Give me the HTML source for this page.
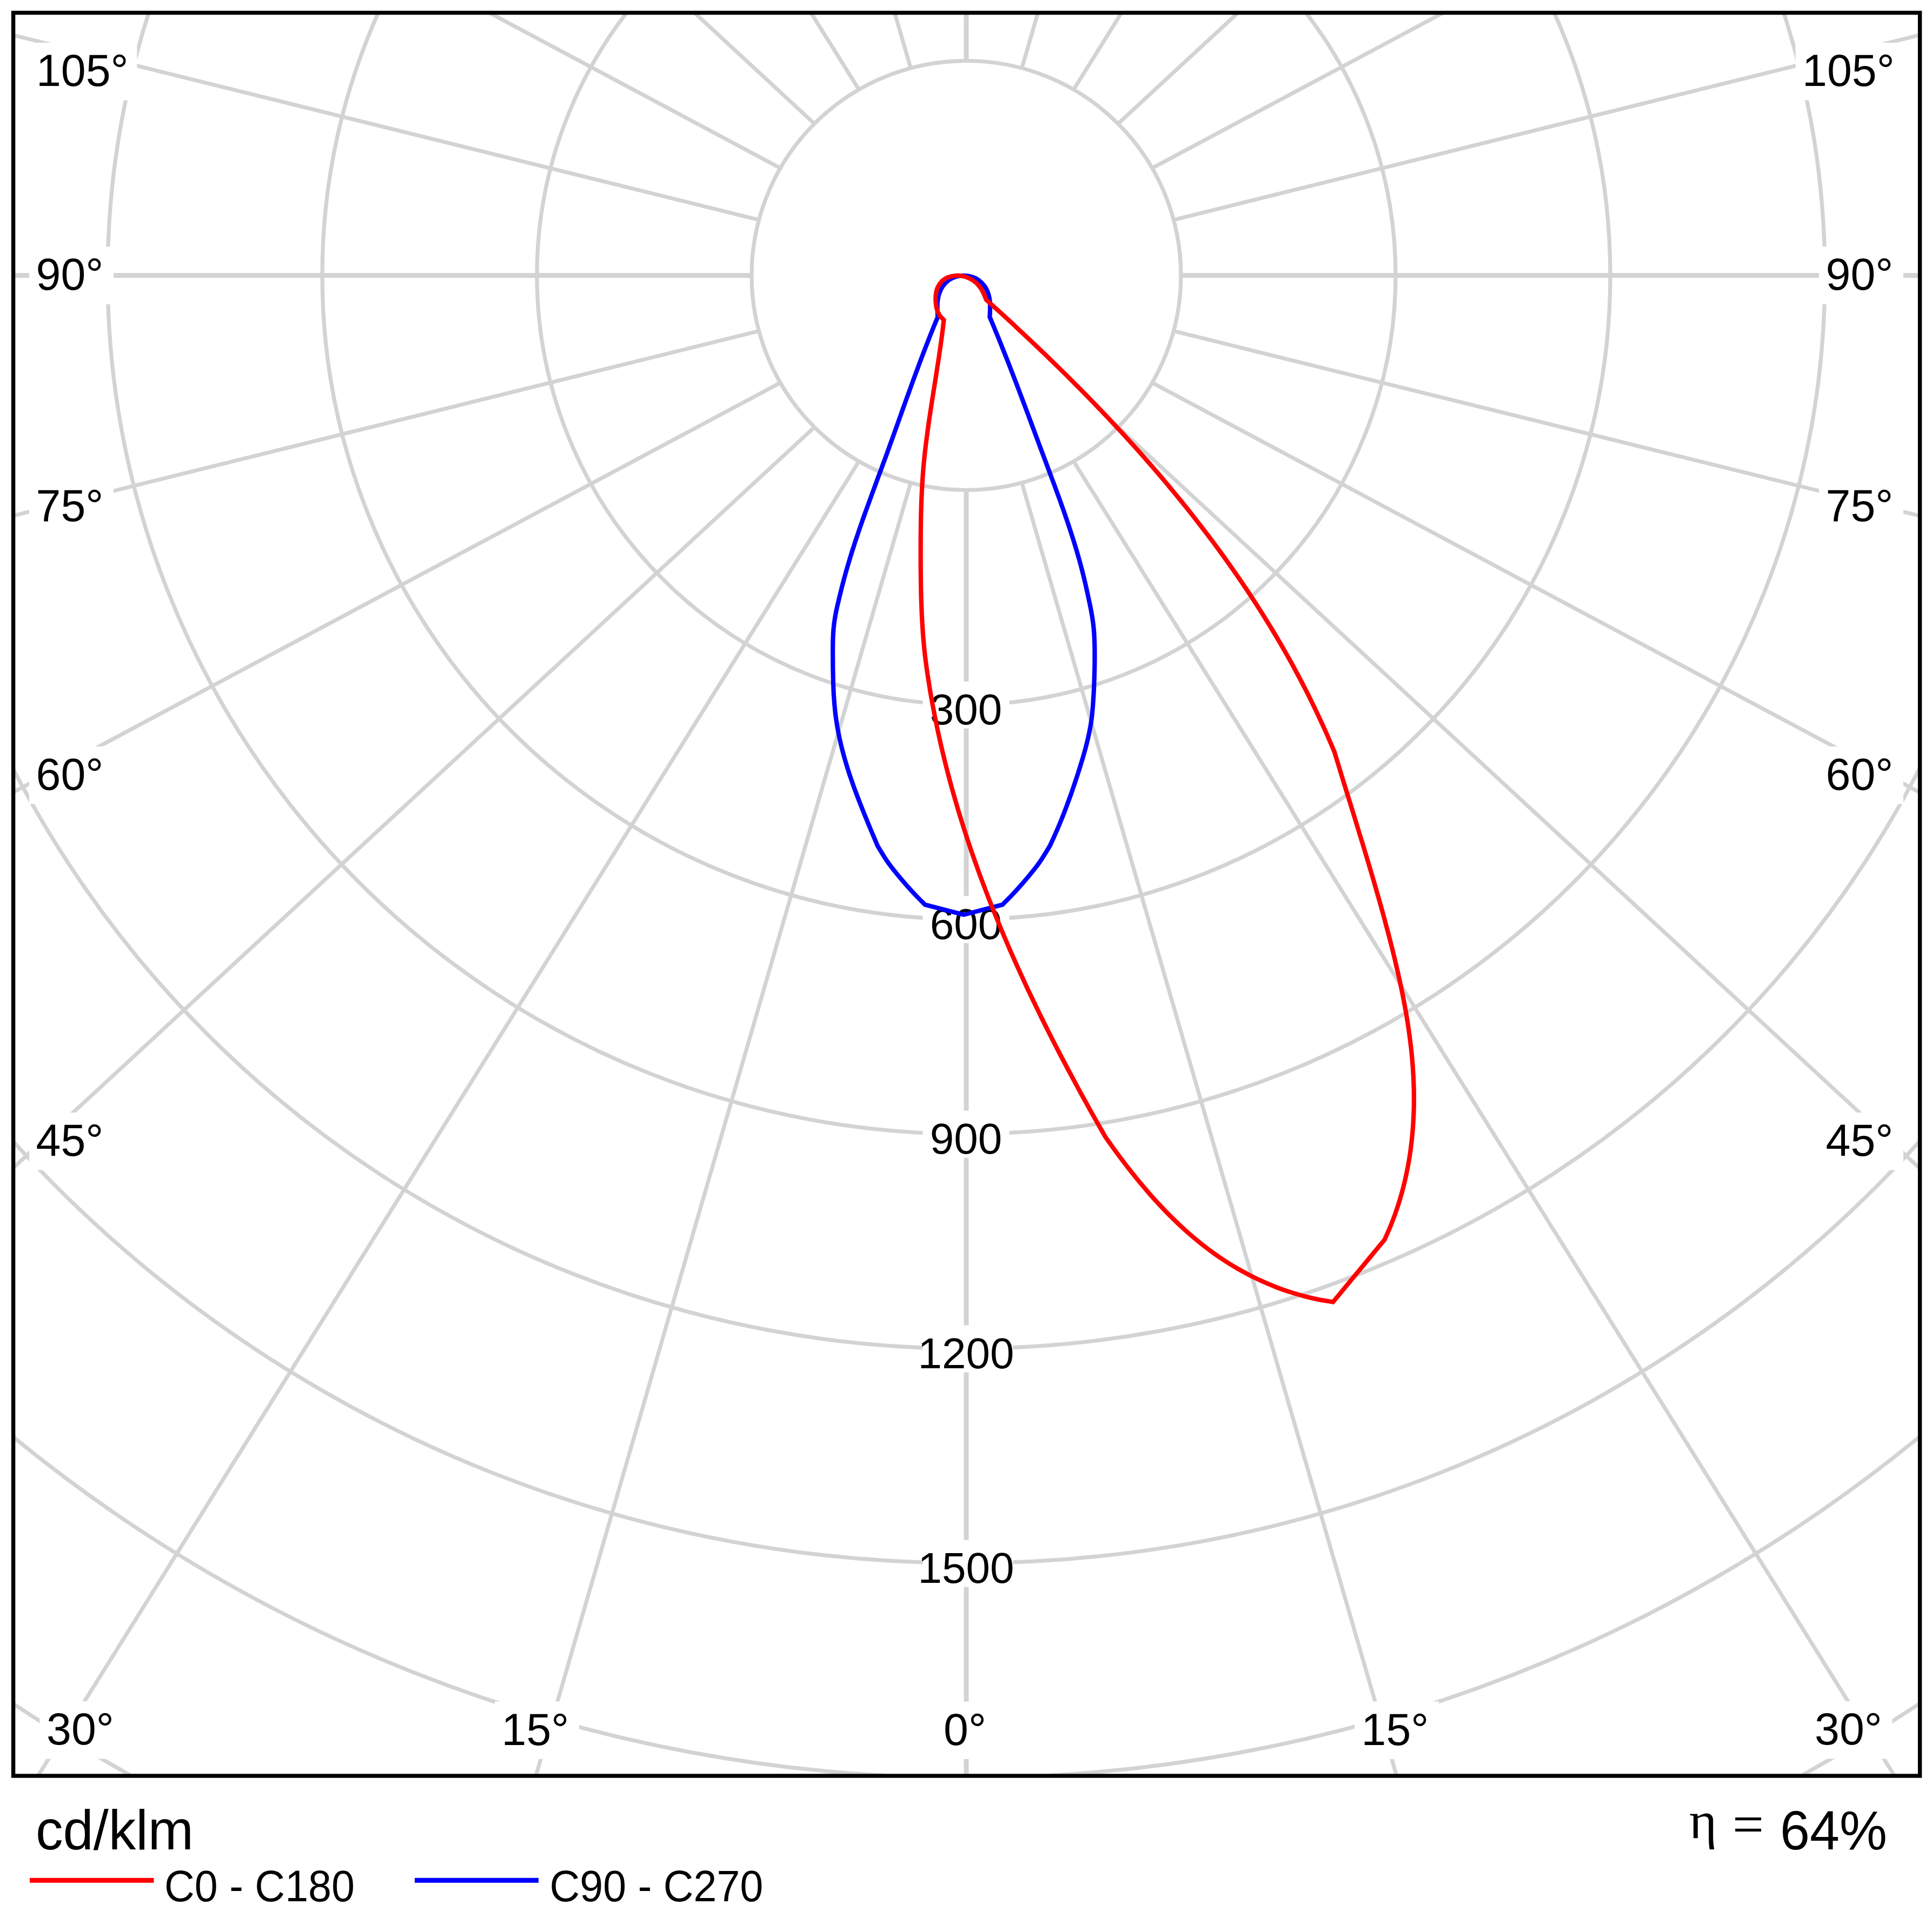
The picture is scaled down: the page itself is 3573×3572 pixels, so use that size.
<!DOCTYPE html>
<html><head><meta charset="utf-8"><title>Polar diagram</title>
<style>html,body{margin:0;padding:0;background:#fff}svg{display:block}</style></head>
<body>
<svg width="3573" height="3572" viewBox="0 0 3573 3572">
<defs><clipPath id="pc"><rect x="28" y="27" width="3519" height="3254"/></clipPath></defs>
<rect width="3573" height="3572" fill="#fff"/>
<g clip-path="url(#pc)">
<g fill="none" stroke="#d3d3d3" stroke-width="7.2">
<circle cx="1787.0" cy="509.5" r="397.0"/>
<circle cx="1787.0" cy="509.5" r="794.0"/>
<circle cx="1787.0" cy="509.5" r="1191.0"/>
<circle cx="1787.0" cy="509.5" r="1588.0"/>
<circle cx="1787.0" cy="509.5" r="1985.0"/>
<circle cx="1787.0" cy="509.5" r="2382.0"/>
<circle cx="1787.0" cy="509.5" r="2779.0"/>
<circle cx="1787.0" cy="509.5" r="3176.0"/>
<line x1="1889.8" y1="893.0" x2="3183.8" y2="5358.9"/>
<line x1="1985.5" y1="853.3" x2="4485.5" y2="4857.4"/>
<line x1="2067.7" y1="790.2" x2="5603.3" y2="4059.5"/>
<line x1="2130.8" y1="708.0" x2="6460.9" y2="3019.8"/>
<line x1="2170.5" y1="612.3" x2="7000.1" y2="1808.9"/>
<line x1="2170.5" y1="406.7" x2="7000.1" y2="-789.9"/>
<line x1="2130.8" y1="311.0" x2="6460.9" y2="-2000.7"/>
<line x1="2067.7" y1="228.8" x2="5603.3" y2="-3040.5"/>
<line x1="1985.5" y1="165.7" x2="4485.5" y2="-3838.4"/>
<line x1="1889.8" y1="126.0" x2="3183.8" y2="-4339.9"/>
<line x1="1684.2" y1="126.0" x2="390.2" y2="-4339.9"/>
<line x1="1588.5" y1="165.7" x2="-911.5" y2="-3838.4"/>
<line x1="1506.3" y1="228.8" x2="-2029.3" y2="-3040.5"/>
<line x1="1443.2" y1="311.0" x2="-2886.9" y2="-2000.8"/>
<line x1="1403.5" y1="406.7" x2="-3426.1" y2="-789.9"/>
<line x1="1403.5" y1="612.3" x2="-3426.1" y2="1808.9"/>
<line x1="1443.2" y1="708.0" x2="-2886.9" y2="3019.8"/>
<line x1="1506.3" y1="790.2" x2="-2029.3" y2="4059.5"/>
<line x1="1588.5" y1="853.3" x2="-911.5" y2="4857.4"/>
<line x1="1684.2" y1="893.0" x2="390.2" y2="5358.9"/>
</g>
<g fill="none" stroke="#d3d3d3" stroke-width="9">
<line x1="1787.0" y1="906.5" x2="1787.0" y2="5530.0"/>
<line x1="2184.0" y1="509.5" x2="7184.0" y2="509.5"/>
<line x1="1787.0" y1="112.5" x2="1787.0" y2="-4511.0"/>
<line x1="1390.0" y1="509.5" x2="-3610.0" y2="509.5"/>
</g>
<g fill="#fff">
<rect x="54.0" y="456.3" width="156.0" height="106.5"/>
<rect x="3364.0" y="456.3" width="156.0" height="106.5"/>
<rect x="54.0" y="883.8" width="156.0" height="106.5"/>
<rect x="3364.0" y="883.8" width="156.0" height="106.5"/>
<rect x="54.0" y="1380.8" width="156.0" height="106.5"/>
<rect x="3364.0" y="1380.8" width="156.0" height="106.5"/>
<rect x="54.0" y="2058.0" width="156.0" height="106.5"/>
<rect x="3364.0" y="2058.0" width="156.0" height="106.5"/>
<rect x="54.4" y="79.0" width="199.0" height="106.5"/>
<rect x="3320.6" y="79.0" width="199.0" height="106.5"/>
<rect x="73.5" y="3147.0" width="156.0" height="106.5"/>
<rect x="3343.5" y="3147.0" width="156.0" height="106.5"/>
<rect x="915.0" y="3147.5" width="156.0" height="106.5"/>
<rect x="2505.0" y="3147.5" width="156.0" height="106.5"/>
<rect x="1732.5" y="3147.5" width="112.0" height="106.5"/>
<rect x="1706.5" y="1260.5" width="160" height="87"/>
<rect x="1706.5" y="1657.5" width="160" height="87"/>
<rect x="1706.5" y="2054.5" width="160" height="87"/>
<rect x="1706.5" y="2451.5" width="167" height="87"/>
<rect x="1706.5" y="2848.5" width="167" height="87"/>
</g>
<g font-family="'Liberation Sans', sans-serif" fill="#000">
<text x="66.5" y="536.3" font-size="82.5">90°</text>
<text x="3376.5" y="536.3" font-size="82.5">90°</text>
<text x="66.5" y="963.8" font-size="82.5">75°</text>
<text x="3376.5" y="963.8" font-size="82.5">75°</text>
<text x="66.5" y="1460.8" font-size="82.5">60°</text>
<text x="3376.5" y="1460.8" font-size="82.5">60°</text>
<text x="66.5" y="2138.0" font-size="82.5">45°</text>
<text x="3376.5" y="2138.0" font-size="82.5">45°</text>
<text x="66.9" y="159.0" font-size="82.5">105°</text>
<text x="3333.1" y="159.0" font-size="82.5">105°</text>
<text x="86.0" y="3227.0" font-size="82.5">30°</text>
<text x="3356.0" y="3227.0" font-size="82.5">30°</text>
<text x="927.5" y="3227.5" font-size="82.5">15°</text>
<text x="2517.5" y="3227.5" font-size="82.5">15°</text>
<text x="1745.0" y="3227.5" font-size="82.5">0°</text>
<text x="1786.5" y="1340.0" font-size="80" text-anchor="middle">300</text>
<text x="1786.5" y="1737.0" font-size="80" text-anchor="middle">600</text>
<text x="1786.5" y="2134.0" font-size="80" text-anchor="middle">900</text>
<text x="1786.5" y="2531.0" font-size="80" text-anchor="middle">1200</text>
<text x="1786.5" y="2928.0" font-size="80" text-anchor="middle">1500</text>
</g>
<g fill="none" stroke-width="8.2" stroke-linejoin="miter" stroke-miterlimit="6">
<path d="M1734.2 586.5 C1734.1 584.2 1733.7 577.8 1733.6 572.9 C1733.6 568.0 1733.3 562.4 1733.9 557.4 C1734.5 552.4 1735.3 547.6 1737.0 542.9 C1738.7 538.1 1741.0 533.0 1744.0 528.9 C1746.9 524.8 1750.9 520.9 1754.8 518.0 C1758.8 515.1 1763.2 513.2 1767.8 511.8 C1772.4 510.4 1777.5 509.8 1782.3 509.8 C1787.1 509.8 1792.2 510.4 1796.8 511.8 C1801.4 513.2 1805.8 515.1 1809.8 518.0 C1813.7 520.9 1817.7 524.8 1820.6 528.9 C1823.6 533.0 1825.9 538.1 1827.6 542.9 C1829.3 547.6 1830.1 552.4 1830.7 557.4 C1831.3 562.4 1831.0 568.0 1831.0 572.9 C1830.9 577.8 1830.5 584.2 1830.4 586.5 C1831.4 588.8 1834.3 595.6 1836.2 600.2 C1838.1 604.7 1840.0 609.3 1841.8 613.9 C1843.7 618.5 1845.6 623.0 1847.5 627.6 C1849.3 632.2 1851.2 636.8 1853.0 641.4 C1854.9 646.0 1856.7 650.6 1858.5 655.2 C1860.3 659.8 1862.1 664.4 1864.0 669.0 C1865.8 673.6 1867.6 678.2 1869.3 682.8 C1871.1 687.4 1872.9 692.1 1874.7 696.7 C1876.5 701.3 1878.2 705.9 1880.0 710.5 C1881.8 715.2 1883.5 719.8 1885.3 724.4 C1887.0 729.0 1888.8 733.7 1890.5 738.3 C1892.3 742.9 1894.0 747.6 1895.8 752.2 C1897.5 756.8 1899.2 761.5 1901.0 766.1 C1902.7 770.8 1904.4 775.4 1906.2 780.0 C1907.9 784.7 1909.6 789.3 1911.4 794.0 C1913.1 798.6 1914.8 803.2 1916.5 807.9 C1918.3 812.5 1920.0 817.1 1921.7 821.8 C1923.4 826.4 1925.2 831.1 1926.9 835.7 C1928.6 840.3 1930.4 845.0 1932.1 849.6 C1933.8 854.2 1935.6 858.9 1937.3 863.5 C1939.0 868.1 1940.8 872.8 1942.5 877.4 C1944.2 882.0 1945.9 886.7 1947.7 891.3 C1949.4 896.0 1951.1 900.6 1952.8 905.2 C1954.5 909.9 1956.2 914.5 1957.9 919.2 C1959.6 923.8 1961.3 928.5 1962.9 933.1 C1964.6 937.8 1966.2 942.4 1967.9 947.1 C1969.5 951.8 1971.1 956.4 1972.7 961.1 C1974.3 965.8 1975.9 970.5 1977.4 975.2 C1979.0 979.9 1980.5 984.6 1982.0 989.3 C1983.5 994.0 1985.0 998.7 1986.5 1003.4 C1988.0 1008.1 1989.4 1012.9 1990.8 1017.6 C1992.2 1022.4 1993.6 1027.1 1994.9 1031.9 C1996.3 1036.6 1997.6 1041.4 1998.9 1046.2 C2000.1 1051.0 2001.4 1055.8 2002.6 1060.6 C2003.8 1065.4 2005.0 1070.2 2006.1 1075.1 C2007.3 1079.9 2008.4 1084.8 2009.4 1089.6 C2010.5 1094.5 2011.6 1099.3 2012.6 1104.2 C2013.6 1109.0 2014.7 1113.9 2015.7 1118.7 C2016.7 1123.6 2017.7 1128.4 2018.5 1133.3 C2019.4 1138.1 2020.3 1143.0 2020.9 1147.8 C2021.6 1152.7 2022.2 1157.6 2022.7 1162.5 C2023.1 1167.4 2023.5 1172.2 2023.7 1177.1 C2024.0 1182.1 2024.2 1187.0 2024.3 1191.9 C2024.4 1196.8 2024.5 1201.7 2024.5 1206.7 C2024.5 1211.6 2024.5 1216.6 2024.5 1221.5 C2024.4 1226.5 2024.4 1231.4 2024.3 1236.4 C2024.2 1241.4 2024.1 1246.3 2023.9 1251.3 C2023.8 1256.3 2023.6 1261.3 2023.4 1266.2 C2023.2 1271.2 2023.0 1276.2 2022.7 1281.1 C2022.5 1286.1 2022.2 1291.0 2021.8 1296.0 C2021.5 1300.9 2021.2 1305.9 2020.7 1310.8 C2020.3 1315.7 2019.9 1320.6 2019.3 1325.5 C2018.7 1330.4 2018.0 1335.3 2017.2 1340.2 C2016.4 1345.0 2015.5 1349.9 2014.5 1354.7 C2013.5 1359.5 2012.5 1364.3 2011.3 1369.1 C2010.2 1373.9 2009.0 1378.7 2007.7 1383.5 C2006.4 1388.3 2005.1 1393.0 2003.7 1397.8 C2002.3 1402.6 2000.9 1407.3 1999.4 1412.0 C1998.0 1416.8 1996.5 1421.5 1995.0 1426.2 C1993.5 1431.0 1992.0 1435.7 1990.4 1440.4 C1988.9 1445.1 1987.3 1449.8 1985.7 1454.5 C1984.1 1459.2 1982.5 1463.9 1980.9 1468.5 C1979.2 1473.2 1977.5 1477.9 1975.8 1482.5 C1974.1 1487.2 1972.4 1491.8 1970.7 1496.4 C1968.9 1501.1 1967.1 1505.7 1965.3 1510.3 C1963.4 1514.9 1961.6 1519.5 1959.7 1524.0 C1957.8 1528.6 1955.9 1533.2 1953.9 1537.7 C1951.9 1542.2 1949.9 1546.7 1947.9 1551.2 C1945.8 1555.8 1942.6 1562.5 1941.6 1564.7 C1938.3 1569.9 1929.4 1585.5 1922.0 1595.8 C1914.6 1606.1 1905.6 1617.0 1897.3 1626.8 C1889.0 1636.6 1879.6 1647.0 1872.4 1654.8 C1865.1 1662.6 1856.9 1670.4 1853.8 1673.5 L1782.3 1692.1 L1710.8 1673.5 C1707.7 1670.4 1699.5 1662.6 1692.2 1654.8 C1685.0 1647.0 1675.6 1636.6 1667.3 1626.8 C1659.0 1617.0 1650.0 1606.1 1642.6 1595.8 C1635.2 1585.5 1626.3 1569.9 1623.0 1564.7 C1622.0 1562.4 1619.2 1555.7 1617.3 1551.1 C1615.4 1546.6 1613.5 1542.1 1611.5 1537.5 C1609.6 1533.0 1607.7 1528.4 1605.8 1523.8 C1603.9 1519.3 1602.1 1514.7 1600.2 1510.1 C1598.3 1505.5 1596.5 1500.9 1594.6 1496.3 C1592.8 1491.7 1591.0 1487.1 1589.2 1482.5 C1587.4 1477.8 1585.6 1473.2 1583.9 1468.5 C1582.1 1463.9 1580.4 1459.2 1578.7 1454.6 C1577.1 1449.9 1575.4 1445.2 1573.8 1440.5 C1572.2 1435.8 1570.6 1431.1 1569.1 1426.4 C1567.6 1421.7 1566.1 1417.0 1564.7 1412.2 C1563.3 1407.5 1561.9 1402.7 1560.6 1398.0 C1559.3 1393.2 1558.0 1388.4 1556.8 1383.6 C1555.6 1378.8 1554.5 1374.0 1553.4 1369.2 C1552.3 1364.4 1551.3 1359.6 1550.4 1354.7 C1549.4 1349.9 1548.6 1345.0 1547.8 1340.2 C1547.0 1335.3 1546.3 1330.4 1545.6 1325.5 C1545.0 1320.7 1544.4 1315.7 1544.0 1310.8 C1543.5 1305.9 1543.0 1301.0 1542.7 1296.1 C1542.3 1291.1 1542.0 1286.2 1541.7 1281.2 C1541.5 1276.3 1541.3 1271.3 1541.1 1266.4 C1540.9 1261.4 1540.8 1256.4 1540.7 1251.5 C1540.6 1246.5 1540.5 1241.6 1540.4 1236.6 C1540.3 1231.6 1540.3 1226.7 1540.3 1221.7 C1540.2 1216.8 1540.2 1211.8 1540.2 1206.9 C1540.2 1201.9 1540.2 1197.0 1540.3 1192.0 C1540.3 1187.1 1540.4 1182.2 1540.7 1177.3 C1540.9 1172.3 1541.2 1167.4 1541.6 1162.6 C1542.1 1157.7 1542.6 1152.8 1543.4 1147.9 C1544.1 1143.1 1544.9 1138.2 1545.9 1133.4 C1546.8 1128.6 1547.9 1123.7 1549.0 1118.9 C1550.1 1114.1 1551.3 1109.3 1552.4 1104.5 C1553.6 1099.6 1554.8 1094.8 1556.0 1090.0 C1557.2 1085.2 1558.4 1080.4 1559.7 1075.6 C1561.0 1070.8 1562.3 1066.0 1563.6 1061.2 C1564.9 1056.4 1566.3 1051.7 1567.7 1046.9 C1569.1 1042.1 1570.5 1037.4 1571.9 1032.7 C1573.4 1027.9 1574.9 1023.2 1576.3 1018.5 C1577.8 1013.8 1579.4 1009.0 1580.9 1004.3 C1582.4 999.6 1584.0 995.0 1585.6 990.3 C1587.1 985.6 1588.7 980.9 1590.3 976.2 C1592.0 971.6 1593.6 966.9 1595.2 962.2 C1596.9 957.6 1598.5 952.9 1600.2 948.2 C1601.8 943.6 1603.5 938.9 1605.2 934.3 C1606.9 929.6 1608.6 925.0 1610.3 920.4 C1612.0 915.7 1613.7 911.1 1615.4 906.4 C1617.1 901.8 1618.8 897.2 1620.5 892.5 C1622.2 887.9 1623.9 883.2 1625.7 878.6 C1627.4 874.0 1629.1 869.3 1630.8 864.7 C1632.5 860.1 1634.2 855.4 1635.9 850.8 C1637.6 846.1 1639.3 841.5 1641.0 836.8 C1642.7 832.2 1644.4 827.5 1646.0 822.9 C1647.7 818.2 1649.4 813.6 1651.1 808.9 C1652.7 804.2 1654.4 799.6 1656.1 794.9 C1657.7 790.3 1659.4 785.6 1661.1 780.9 C1662.7 776.3 1664.4 771.6 1666.0 767.0 C1667.7 762.3 1669.4 757.6 1671.0 753.0 C1672.7 748.3 1674.4 743.7 1676.0 739.0 C1677.7 734.4 1679.4 729.7 1681.1 725.0 C1682.8 720.4 1684.4 715.7 1686.1 711.1 C1687.8 706.4 1689.5 701.8 1691.2 697.1 C1692.9 692.5 1694.6 687.9 1696.4 683.2 C1698.1 678.6 1699.8 673.9 1701.5 669.3 C1703.3 664.7 1705.0 660.1 1706.8 655.4 C1708.6 650.8 1710.3 646.2 1712.1 641.6 C1713.9 637.0 1715.7 632.4 1717.5 627.8 C1719.3 623.2 1721.1 618.6 1723.0 614.0 C1724.8 609.4 1726.7 604.8 1728.5 600.2 C1730.4 595.6 1733.3 588.8 1734.2 586.5 Z" stroke="#0000ff"/>
<path d="M1745.5 591.8 C1744.2 590.4 1739.8 586.8 1737.6 583.3 C1735.4 579.8 1733.5 575.2 1732.3 570.9 C1731.1 566.6 1730.8 561.7 1730.5 557.4 C1730.2 553.1 1730.1 549.3 1730.7 545.0 C1731.3 540.7 1732.3 535.6 1734.2 531.5 C1736.1 527.4 1738.7 523.2 1741.9 520.1 C1745.1 517.0 1749.0 514.6 1753.3 512.9 C1757.6 511.2 1763.3 510.1 1767.8 509.8 C1772.3 509.5 1776.1 510.0 1780.2 510.8 C1784.3 511.6 1788.6 513.0 1792.6 514.9 C1796.6 516.8 1800.5 519.3 1804.0 522.2 C1807.5 525.1 1810.8 528.9 1813.4 532.5 C1816.0 536.1 1817.9 540.3 1819.6 543.9 C1821.3 547.5 1823.0 552.6 1823.7 554.3 C1826.9 557.2 1836.5 565.8 1842.9 571.6 C1849.3 577.4 1855.6 583.2 1862.0 589.1 C1868.4 594.9 1874.7 600.8 1881.0 606.7 C1887.4 612.6 1893.7 618.5 1900.0 624.4 C1906.3 630.3 1912.6 636.3 1918.8 642.2 C1925.1 648.2 1931.4 654.2 1937.6 660.2 C1943.8 666.2 1950.0 672.3 1956.2 678.4 C1962.4 684.4 1968.6 690.5 1974.8 696.6 C1980.9 702.7 1987.0 708.9 1993.1 715.0 C1999.2 721.2 2005.3 727.4 2011.4 733.6 C2017.5 739.8 2023.5 746.0 2029.5 752.3 C2035.5 758.5 2041.5 764.8 2047.5 771.1 C2053.4 777.4 2059.4 783.8 2065.3 790.1 C2071.2 796.5 2077.1 802.8 2082.9 809.3 C2088.8 815.7 2094.6 822.1 2100.4 828.6 C2106.2 835.0 2111.9 841.5 2117.7 848.0 C2123.4 854.5 2129.1 861.1 2134.8 867.6 C2140.4 874.2 2146.1 880.8 2151.7 887.4 C2157.3 894.0 2162.8 900.7 2168.3 907.3 C2173.9 914.0 2179.4 920.7 2184.8 927.4 C2190.3 934.2 2195.7 940.9 2201.1 947.7 C2206.5 954.5 2211.8 961.3 2217.1 968.2 C2222.4 975.0 2227.7 981.9 2232.9 988.8 C2238.1 995.7 2243.3 1002.6 2248.5 1009.5 C2253.6 1016.5 2258.7 1023.5 2263.8 1030.5 C2268.8 1037.5 2273.8 1044.6 2278.8 1051.6 C2283.8 1058.7 2288.7 1065.8 2293.6 1072.9 C2298.4 1080.1 2303.3 1087.2 2308.1 1094.4 C2312.9 1101.6 2317.6 1108.9 2322.3 1116.1 C2327.0 1123.4 2331.6 1130.7 2336.2 1138.0 C2340.8 1145.3 2345.3 1152.7 2349.8 1160.0 C2354.3 1167.4 2358.8 1174.8 2363.2 1182.3 C2367.5 1189.7 2371.9 1197.2 2376.2 1204.7 C2380.4 1212.2 2384.7 1219.8 2388.9 1227.3 C2393.0 1234.9 2397.1 1242.5 2401.2 1250.2 C2405.3 1257.8 2409.3 1265.5 2413.2 1273.2 C2417.2 1280.9 2421.1 1288.6 2424.9 1296.4 C2428.7 1304.2 2432.5 1312.0 2436.2 1319.8 C2439.9 1327.6 2443.6 1335.5 2447.2 1343.4 C2450.8 1351.3 2454.3 1359.3 2457.8 1367.3 C2461.3 1375.2 2466.3 1387.3 2468.0 1391.3 C2469.2 1395.4 2473.0 1407.7 2475.5 1415.9 C2478.0 1424.1 2480.5 1432.4 2483.0 1440.6 C2485.5 1448.8 2488.0 1457.0 2490.6 1465.2 C2493.1 1473.4 2495.6 1481.6 2498.2 1489.8 C2500.7 1498.0 2503.2 1506.2 2505.8 1514.4 C2508.3 1522.6 2510.8 1530.9 2513.3 1539.1 C2515.9 1547.3 2518.4 1555.5 2520.9 1563.7 C2523.4 1572.0 2525.9 1580.2 2528.3 1588.4 C2530.8 1596.7 2533.3 1604.9 2535.7 1613.2 C2538.1 1621.4 2540.6 1629.7 2542.9 1637.9 C2545.3 1646.2 2547.7 1654.5 2550.0 1662.7 C2552.4 1671.0 2554.7 1679.3 2557.0 1687.6 C2559.3 1695.9 2561.5 1704.2 2563.7 1712.6 C2566.0 1720.9 2568.2 1729.2 2570.3 1737.6 C2572.4 1745.9 2574.6 1754.3 2576.6 1762.6 C2578.7 1771.0 2580.7 1779.4 2582.6 1787.8 C2584.6 1796.2 2586.5 1804.6 2588.4 1813.1 C2590.2 1821.5 2592.0 1829.9 2593.7 1838.4 C2595.4 1846.8 2597.0 1855.3 2598.5 1863.8 C2600.1 1872.2 2601.5 1880.7 2602.9 1889.2 C2604.2 1897.7 2605.5 1906.2 2606.6 1914.7 C2607.8 1923.3 2608.8 1931.8 2609.8 1940.3 C2610.7 1948.9 2611.5 1957.4 2612.2 1966.0 C2612.9 1974.5 2613.4 1983.1 2613.9 1991.7 C2614.3 2000.2 2614.6 2008.8 2614.8 2017.4 C2614.9 2025.9 2615.0 2034.5 2614.9 2043.1 C2614.7 2051.6 2614.5 2060.2 2614.0 2068.7 C2613.6 2077.3 2613.1 2085.8 2612.3 2094.3 C2611.6 2102.8 2610.7 2111.3 2609.6 2119.8 C2608.6 2128.3 2607.4 2136.8 2606.0 2145.2 C2604.6 2153.6 2603.0 2162.0 2601.2 2170.4 C2599.5 2178.8 2597.6 2187.2 2595.4 2195.5 C2593.3 2203.8 2591.0 2212.1 2588.5 2220.3 C2586.0 2228.6 2583.3 2236.8 2580.4 2245.0 C2577.5 2253.1 2574.4 2261.2 2571.1 2269.3 C2567.8 2277.4 2562.3 2289.4 2560.5 2293.4 L2465.2 2408.5 C2460.7 2407.7 2447.2 2405.6 2438.3 2403.9 C2429.5 2402.1 2420.7 2400.0 2412.0 2397.7 C2403.3 2395.5 2394.7 2392.9 2386.2 2390.2 C2377.7 2387.5 2369.3 2384.5 2361.0 2381.3 C2352.7 2378.1 2344.5 2374.7 2336.4 2371.1 C2328.3 2367.5 2320.3 2363.6 2312.5 2359.6 C2304.6 2355.6 2296.8 2351.3 2289.1 2346.9 C2281.5 2342.5 2273.9 2337.9 2266.5 2333.1 C2259.0 2328.3 2251.7 2323.3 2244.5 2318.1 C2237.3 2312.9 2230.2 2307.6 2223.2 2302.1 C2216.2 2296.5 2209.4 2290.9 2202.6 2285.0 C2195.9 2279.2 2189.3 2273.3 2182.7 2267.2 C2176.2 2261.1 2169.8 2254.8 2163.4 2248.5 C2157.1 2242.2 2150.9 2235.7 2144.8 2229.1 C2138.7 2222.6 2132.6 2215.9 2126.7 2209.2 C2120.8 2202.4 2115.0 2195.6 2109.2 2188.7 C2103.5 2181.8 2097.8 2174.8 2092.3 2167.8 C2086.7 2160.8 2081.2 2153.7 2075.9 2146.6 C2070.5 2139.5 2065.2 2132.3 2059.9 2125.1 C2054.7 2117.9 2047.1 2107.1 2044.5 2103.5 C2042.4 2099.7 2035.9 2088.5 2031.7 2081.0 C2027.4 2073.5 2023.1 2065.9 2018.9 2058.4 C2014.7 2050.8 2010.5 2043.3 2006.3 2035.7 C2002.1 2028.1 1998.0 2020.5 1993.8 2012.9 C1989.7 2005.3 1985.6 1997.7 1981.5 1990.0 C1977.4 1982.4 1973.3 1974.7 1969.3 1967.0 C1965.2 1959.4 1961.2 1951.7 1957.2 1944.0 C1953.2 1936.3 1949.3 1928.6 1945.3 1920.8 C1941.4 1913.1 1937.5 1905.4 1933.6 1897.6 C1929.8 1889.9 1925.9 1882.1 1922.1 1874.3 C1918.3 1866.5 1914.5 1858.7 1910.8 1850.9 C1907.0 1843.0 1903.3 1835.2 1899.6 1827.4 C1895.9 1819.5 1892.3 1811.6 1888.7 1803.8 C1885.1 1795.9 1881.5 1788.0 1878.0 1780.1 C1874.4 1772.1 1870.9 1764.2 1867.5 1756.3 C1864.0 1748.3 1860.6 1740.4 1857.2 1732.4 C1853.8 1724.4 1850.5 1716.4 1847.2 1708.4 C1843.9 1700.4 1840.6 1692.4 1837.4 1684.3 C1834.2 1676.3 1831.0 1668.3 1827.8 1660.2 C1824.7 1652.1 1821.6 1644.0 1818.6 1635.9 C1815.5 1627.8 1812.5 1619.7 1809.6 1611.6 C1806.7 1603.4 1803.8 1595.3 1800.9 1587.1 C1798.0 1579.0 1795.2 1570.8 1792.5 1562.6 C1789.7 1554.4 1787.0 1546.2 1784.4 1537.9 C1781.7 1529.7 1779.1 1521.5 1776.6 1513.2 C1774.0 1504.9 1771.5 1496.6 1769.1 1488.3 C1766.6 1480.1 1764.3 1471.7 1761.9 1463.4 C1759.6 1455.1 1757.3 1446.7 1755.1 1438.4 C1752.9 1430.0 1750.7 1421.6 1748.6 1413.2 C1746.5 1404.8 1744.5 1396.4 1742.5 1388.0 C1740.5 1379.6 1738.6 1371.1 1736.7 1362.7 C1734.8 1354.2 1733.0 1345.7 1731.3 1337.2 C1729.5 1328.7 1727.9 1320.2 1726.3 1311.7 C1724.6 1303.2 1723.1 1294.6 1721.6 1286.1 C1720.1 1277.5 1718.7 1268.9 1717.4 1260.3 C1716.0 1251.7 1714.1 1238.8 1713.5 1234.5 C1713.2 1232.1 1712.2 1224.8 1711.6 1220.0 C1711.0 1215.1 1710.4 1210.3 1709.9 1205.4 C1709.4 1200.5 1708.9 1195.7 1708.5 1190.8 C1708.0 1185.9 1707.6 1181.1 1707.2 1176.2 C1706.8 1171.3 1706.5 1166.5 1706.2 1161.6 C1705.9 1156.7 1705.6 1151.8 1705.3 1146.9 C1705.0 1142.0 1704.8 1137.2 1704.6 1132.3 C1704.4 1127.4 1704.2 1122.5 1704.0 1117.6 C1703.8 1112.7 1703.7 1107.8 1703.5 1102.9 C1703.4 1098.0 1703.3 1093.1 1703.2 1088.2 C1703.1 1083.3 1703.0 1078.4 1703.0 1073.5 C1702.9 1068.6 1702.8 1063.7 1702.8 1058.8 C1702.7 1053.9 1702.7 1049.0 1702.7 1044.1 C1702.7 1039.2 1702.7 1034.3 1702.7 1029.4 C1702.6 1024.5 1702.6 1019.6 1702.7 1014.7 C1702.7 1009.8 1702.7 1004.9 1702.7 1000.0 C1702.7 995.1 1702.7 990.2 1702.8 985.3 C1702.8 980.4 1702.9 975.5 1703.0 970.6 C1703.0 965.7 1703.1 960.8 1703.2 955.9 C1703.3 951.0 1703.4 946.1 1703.6 941.2 C1703.7 936.3 1703.9 931.4 1704.1 926.5 C1704.3 921.6 1704.5 916.7 1704.7 911.8 C1704.9 907.0 1705.2 902.1 1705.5 897.2 C1705.7 892.3 1706.1 887.4 1706.4 882.6 C1706.7 877.7 1707.1 872.8 1707.5 868.0 C1707.9 863.1 1708.4 858.2 1708.8 853.4 C1709.3 848.5 1709.8 843.6 1710.3 838.8 C1710.9 833.9 1711.4 829.1 1712.0 824.2 C1712.6 819.4 1713.2 814.5 1713.8 809.7 C1714.5 804.8 1715.1 800.0 1715.8 795.2 C1716.4 790.3 1717.1 785.5 1717.8 780.6 C1718.5 775.8 1719.2 771.0 1720.0 766.1 C1720.7 761.3 1721.4 756.5 1722.2 751.6 C1722.9 746.8 1723.7 742.0 1724.4 737.1 C1725.2 732.3 1725.9 727.5 1726.7 722.6 C1727.5 717.8 1728.2 713.0 1729.0 708.1 C1729.8 703.3 1730.5 698.5 1731.3 693.6 C1732.0 688.8 1732.8 684.0 1733.5 679.1 C1734.3 674.3 1735.0 669.4 1735.8 664.6 C1736.5 659.8 1737.2 654.9 1737.9 650.1 C1738.6 645.2 1739.3 640.4 1740.0 635.5 C1740.7 630.7 1741.3 625.8 1742.0 621.0 C1742.6 616.1 1743.2 611.3 1743.8 606.4 C1744.4 601.5 1745.2 594.2 1745.5 591.8 Z" stroke="#ff0000"/>
</g>
</g>
<rect x="24.6" y="23.6" width="3526" height="3261.4" fill="none" stroke="#000" stroke-width="7.4"/>
<g font-family="'Liberation Sans', sans-serif" fill="#000">
<text x="66" y="3421" font-size="103" textLength="292" lengthAdjust="spacingAndGlyphs">cd/klm</text>
<rect x="55" y="3473.8" width="229.5" height="9" fill="#ff0000"/>
<text x="304" y="3517" font-size="81" textLength="352" lengthAdjust="spacingAndGlyphs">C0 - C180</text>
<rect x="767" y="3473.8" width="229" height="9" fill="#0000ff"/>
<text x="1016.5" y="3517" font-size="81" textLength="395" lengthAdjust="spacingAndGlyphs">C90 - C270</text>
<text x="3292" y="3421" font-size="102" textLength="198" lengthAdjust="spacingAndGlyphs">64%</text>
</g>
<g font-family="'Liberation Serif', serif" fill="#000"><text x="3124" y="3399.5" font-size="98">η</text><text x="3204" y="3410" font-size="103">=</text></g>
</svg>
</body></html>
